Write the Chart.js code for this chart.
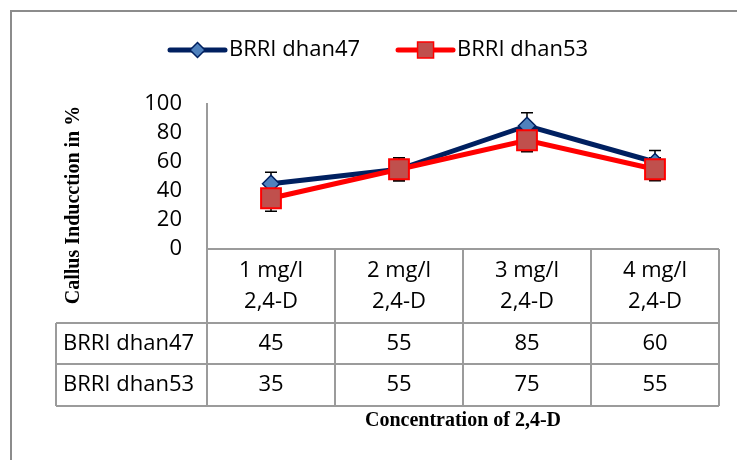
<!DOCTYPE html>
<html>
<head>
<meta charset="utf-8">
<script src="https://cdn.jsdelivr.net/npm/chart.js@4"></script>
<style>
  html, body { margin: 0; padding: 0; background: #fff; }
  canvas { display: block; }
</style>
</head>
<body>
<canvas id="chart" width="737" height="460"></canvas>
<script>
// data
const categories = [['1 mg/l', '2,4-D'], ['2 mg/l', '2,4-D'], ['3 mg/l', '2,4-D'], ['4 mg/l', '2,4-D']];
const seriesNames = ['BRRI dhan47', 'BRRI dhan53'];
const dhan47 = [45, 55, 85, 60];
const dhan53 = [35, 55, 75, 55];
const err47 = [8, 8, 9, 8];
const err53 = [9, 8, 8, 8];
const yTicks = [0, 20, 40, 60, 80, 100];

const GRID = '#9b9b9b';
const SANS = '"Open Sans", sans-serif';
const SERIF = '"Liberation Serif", "Times New Roman", serif';
const NAVY = '#002060';
const RED = '#ff0000';

/* =========================
   EXTRAS: error bars, data table, legend, titles
========================= */
const extras = {
  id: 'extras',
  beforeDatasetsDraw(chart) {
    const ctx = chart.ctx;
    const y = chart.scales.y;
    const errs = [err47, err53];
    ctx.save();
    ctx.strokeStyle = '#000';
    ctx.lineWidth = 1.5;
    chart.data.datasets.forEach((ds, d) => {
      const meta = chart.getDatasetMeta(d);
      meta.data.forEach((pt, i) => {
        const top = y.getPixelForValue(ds.data[i] + errs[d][i]);
        const bot = y.getPixelForValue(ds.data[i] - errs[d][i]);
        ctx.beginPath();
        ctx.moveTo(pt.x, top); ctx.lineTo(pt.x, bot);
        ctx.moveTo(pt.x - 6, top); ctx.lineTo(pt.x + 6, top);
        ctx.moveTo(pt.x - 6, bot); ctx.lineTo(pt.x + 6, bot);
        ctx.stroke();
      });
    });
    ctx.restore();
  },
  afterDraw(chart) {
    const ctx = chart.ctx;
    const x = chart.scales.x;
    const area = chart.chartArea;
    const half = (x.getPixelForValue(1) - x.getPixelForValue(0)) / 2;
    const top = area.bottom;
    const headBot = top + 74;
    const row1 = headBot + 41;
    const row2 = row1 + 42;
    const labelLeft = 56;

    ctx.save();
    // table lines
    ctx.strokeStyle = GRID;
    ctx.lineWidth = 2;
    ctx.beginPath();
    ctx.moveTo(area.left, top); ctx.lineTo(area.right, top);
    [headBot, row1, row2].forEach(yy => { ctx.moveTo(labelLeft, yy); ctx.lineTo(area.right, yy); });
    ctx.moveTo(labelLeft, headBot); ctx.lineTo(labelLeft, row2);
    categories.forEach((c, i) => {
      const cx = x.getPixelForValue(i);
      ctx.moveTo(cx - half, top); ctx.lineTo(cx - half, row2);
    });
    ctx.moveTo(area.right, top); ctx.lineTo(area.right, row2);
    ctx.stroke();

    // table text
    ctx.fillStyle = '#000';
    ctx.font = '22px ' + SANS;
    ctx.textBaseline = 'middle';
    ctx.textAlign = 'center';
    categories.forEach((c, i) => {
      const cx = x.getPixelForValue(i);
      ctx.fillText(c[0], cx, top + 22);
      ctx.fillText(c[1], cx, top + 53);
      ctx.fillText(String(dhan47[i]), cx, (headBot + row1) / 2);
      ctx.fillText(String(dhan53[i]), cx, (row1 + row2) / 2);
    });
    ctx.textAlign = 'left';
    ctx.fillText(seriesNames[0], labelLeft + 7, (headBot + row1) / 2);
    ctx.fillText(seriesNames[1], labelLeft + 7, (row1 + row2) / 2);

    // legend
    const ly = 50;
    let lx = 170;
    chart.data.datasets.forEach((ds, d) => {
      ctx.strokeStyle = ds.borderColor;
      ctx.lineWidth = 5;
      ctx.lineCap = 'round';
      ctx.beginPath();
      ctx.moveTo(lx, ly); ctx.lineTo(lx + 55, ly);
      ctx.stroke();
      const mx = lx + 27.5;
      ctx.fillStyle = ds.pointBackgroundColor;
      ctx.strokeStyle = ds.pointBorderColor;
      ctx.lineWidth = 1.5;
      ctx.beginPath();
      if (ds.pointStyle === 'rectRot') {
        ctx.moveTo(mx - 7.5, ly); ctx.lineTo(mx, ly - 7.5);
        ctx.lineTo(mx + 7.5, ly); ctx.lineTo(mx, ly + 7.5);
        ctx.closePath();
      } else {
        ctx.rect(mx - 8, ly - 8, 16, 16);
      }
      ctx.fill(); ctx.stroke();
      ctx.fillStyle = '#000';
      ctx.font = '22px ' + SANS;
      ctx.textAlign = 'left';
      ctx.fillText(ds.label, lx + 59, ly);
      lx += 59 + ctx.measureText(ds.label).width + 38;
    });

    // axis titles
    ctx.font = 'bold 20px ' + SERIF;
    ctx.textAlign = 'center';
    ctx.fillText('Concentration of 2,4-D', (area.left + area.right) / 2, 421);
    ctx.save();
    ctx.translate(74, 205);
    ctx.rotate(-Math.PI / 2);
    ctx.fillText('Callus Inducction in %', 0, 0);
    ctx.restore();

    // outer frame
    ctx.strokeStyle = '#8c8c8c';
    ctx.lineWidth = 2;
    ctx.beginPath();
    ctx.moveTo(11, chart.height + 2);
    ctx.lineTo(11, 11);
    ctx.lineTo(chart.width + 2, 11);
    ctx.stroke();
    ctx.restore();
  }
};

new Chart(document.getElementById('chart'), {
  type: 'line',
  data: {
    labels: categories,
    datasets: [
      {
        label: seriesNames[0],
        data: dhan47,
        order: 1,
        borderColor: NAVY,
        borderWidth: 5,
        pointStyle: 'rectRot',
        pointRadius: 8.5,
        pointBackgroundColor: '#4f81bd',
        pointBorderColor: NAVY,
        pointBorderWidth: 1.5,
        tension: 0
      },
      {
        label: seriesNames[1],
        data: dhan53,
        order: 0,
        borderColor: RED,
        borderWidth: 5,
        pointStyle: 'rect',
        pointRadius: 14,
        pointBackgroundColor: '#c0504d',
        pointBorderColor: RED,
        pointBorderWidth: 2,
        tension: 0
      }
    ]
  },
  options: {
    responsive: false,
    animation: false,
    layout: { padding: { top: 104, right: 18, bottom: 211, left: 0 } },
    plugins: {
      legend: { display: false },
      tooltip: { enabled: false }
    },
    scales: {
      x: { type: 'category', offset: true, display: false },
      y: {
        min: 0,
        max: 100,
        afterBuildTicks: (scale) => { scale.ticks = yTicks.map(v => ({ value: v })); },
        afterFit: (scale) => { scale.width = 207; },
        grid: { display: false, drawTicks: false },
        border: { display: true, color: GRID, width: 2 },
        ticks: { color: '#000', padding: 25, autoSkip: false, font: { family: SANS, size: 22 } }
      }
    }
  },
  plugins: [extras]
});
</script>
</body>
</html>
